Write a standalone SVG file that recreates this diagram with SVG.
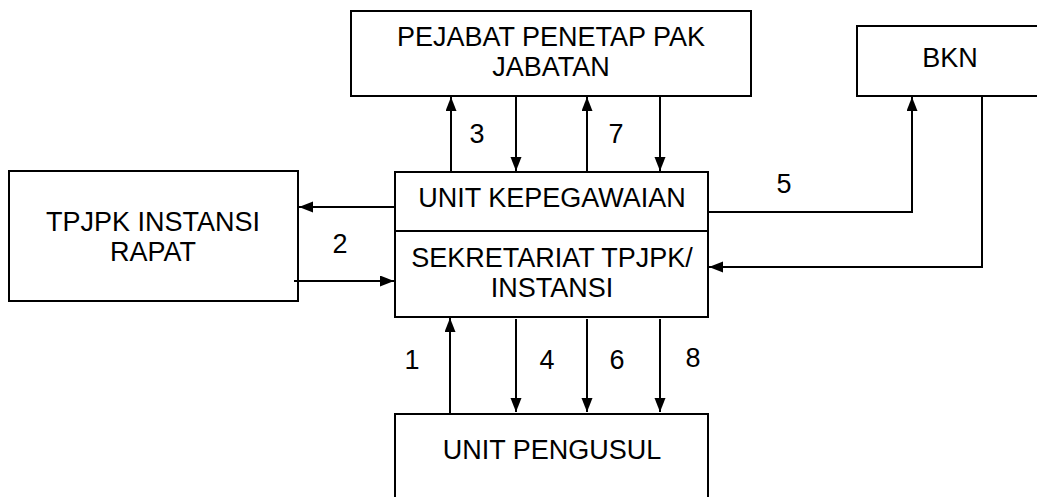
<svg xmlns="http://www.w3.org/2000/svg" width="1037" height="497" viewBox="0 0 1037 497">
<style>
.box{fill:#fff;stroke:#000;stroke-width:2}
.lbl{font-family:"Liberation Sans",Arial,sans-serif;font-size:27px;fill:#000;text-anchor:middle}
.con{fill:none;stroke:#000;stroke-width:2;marker-end:url(#ah)}
</style>
<defs>
<marker id="ah" markerUnits="userSpaceOnUse" markerWidth="15" markerHeight="12" refX="14" refY="5.5" orient="auto">
<path d="M0,0 L14,5.5 L0,11 z" fill="#000"/>
</marker>
</defs>
<rect width="1037" height="497" fill="#fff"/>
<g id="pejabat">
<rect class="box" x="351" y="11" width="400" height="85"/>
<text class="lbl" x="551" y="46">PEJABAT PENETAP PAK</text>
<text class="lbl" x="551" y="76">JABATAN</text>
</g>
<g id="bkn">
<rect class="box" x="857" y="26" width="190" height="70"/>
<text class="lbl" x="950" y="67">BKN</text>
</g>
<g id="tpjpk">
<rect class="box" x="9" y="171" width="289" height="130"/>
<text class="lbl" x="153" y="231">TPJPK INSTANSI</text>
<text class="lbl" x="153" y="261">RAPAT</text>
</g>
<g id="unit-kepegawaian">
<rect class="box" x="395" y="172" width="313" height="145"/>
<line x1="395" y1="231" x2="708" y2="231" stroke="#000" stroke-width="2"/>
<text class="lbl" x="552" y="207">UNIT KEPEGAWAIAN</text>
<text class="lbl" x="552" y="267">SEKRETARIAT TPJPK/</text>
<text class="lbl" x="552" y="297">INSTANSI</text>
</g>
<g id="unit-pengusul">
<rect class="box" x="395" y="414" width="313" height="90"/>
<text class="lbl" x="552" y="459">UNIT PENGUSUL</text>
</g>
<g id="connectors">
<path class="con" d="M451,172 V97"/>
<path class="con" d="M516,96 V171"/>
<path class="con" d="M587,172 V97"/>
<path class="con" d="M660,96 V171"/>
<path class="con" d="M395,207 H299"/>
<path class="con" d="M294,281 H394"/>
<path class="con" d="M708,212 H912 V97"/>
<path class="con" d="M982,96 V267 H709"/>
<path class="con" d="M450,414 V318"/>
<path class="con" d="M516,319 V412"/>
<path class="con" d="M587,319 V412"/>
<path class="con" d="M660,319 V412"/>
</g>
<g id="labels">
<text class="lbl" x="477" y="143">3</text>
<text class="lbl" x="616" y="143">7</text>
<text class="lbl" x="340" y="253">2</text>
<text class="lbl" x="784" y="193">5</text>
<text class="lbl" x="412" y="369">1</text>
<text class="lbl" x="547" y="369">4</text>
<text class="lbl" x="617" y="369">6</text>
<text class="lbl" x="693" y="367">8</text>
</g>
</svg>
